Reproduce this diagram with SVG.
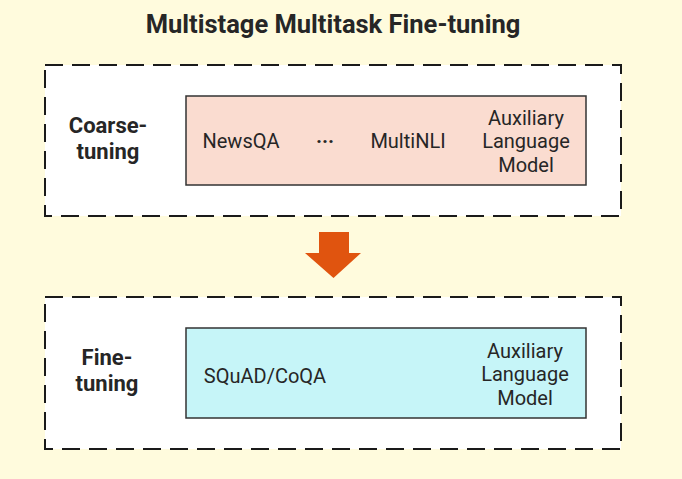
<svg xmlns="http://www.w3.org/2000/svg" width="682" height="479" viewBox="0 0 682 479">
<style>
.title{font-family:Roboto,"Open Sans","Liberation Sans",sans-serif;font-weight:bold;font-size:25.5px;fill:#262626}
.stage{font-family:Roboto,"Open Sans","Liberation Sans",sans-serif;font-weight:bold;font-size:22px;fill:#262626}
.lbl{font-family:Roboto,"Open Sans","Liberation Sans",sans-serif;font-size:20px;fill:#262626}
.dots{font-family:Roboto,"Open Sans","Liberation Sans",sans-serif;font-weight:bold;font-size:20px;fill:#262626}
.outer{fill:#ffffff;stroke:#1a1a1a;stroke-width:2;stroke-dasharray:18 9}
.inner{stroke:#333333;stroke-width:1.5}
</style>
<rect x="0" y="0" width="682" height="479" fill="#fffbdd"/>
<text class="title" x="333" y="33" text-anchor="middle">Multistage Multitask Fine-tuning</text>
<g id="coarse">
<rect class="outer" x="45" y="65" width="576" height="151"/>
<text class="stage" x="108" y="133" text-anchor="middle">Coarse-</text>
<text class="stage" x="108" y="159" text-anchor="middle">tuning</text>
</g>
<g id="coarse-tasks">
<rect class="inner" x="186" y="96" width="400" height="89" fill="#fadcd0"/>
<text class="lbl" x="241" y="148" text-anchor="middle">NewsQA</text>
<text class="dots" x="325" y="148" text-anchor="middle">···</text>
<text class="lbl" x="408" y="148" text-anchor="middle">MultiNLI</text>
<text class="lbl" x="526" y="124.5" text-anchor="middle">Auxiliary</text>
<text class="lbl" x="526" y="148" text-anchor="middle">Language</text>
<text class="lbl" x="526" y="171.5" text-anchor="middle">Model</text>
</g>
<g id="connectors">
<polygon points="319,232 349,232 349,253 361,253 333.5,278 305,253 319,253" fill="#e0540f"/>
</g>
<g id="fine">
<rect class="outer" x="45" y="297" width="576" height="152"/>
<text class="stage" x="107" y="365" text-anchor="middle">Fine-</text>
<text class="stage" x="107" y="391" text-anchor="middle">tuning</text>
</g>
<g id="fine-tasks">
<rect class="inner" x="186" y="328" width="400" height="90" fill="#c6f5f8"/>
<text class="lbl" x="265" y="383" text-anchor="middle">SQuAD/CoQA</text>
<text class="lbl" x="525" y="357.5" text-anchor="middle">Auxiliary</text>
<text class="lbl" x="525" y="381" text-anchor="middle">Language</text>
<text class="lbl" x="525" y="404.5" text-anchor="middle">Model</text>
</g>
</svg>
